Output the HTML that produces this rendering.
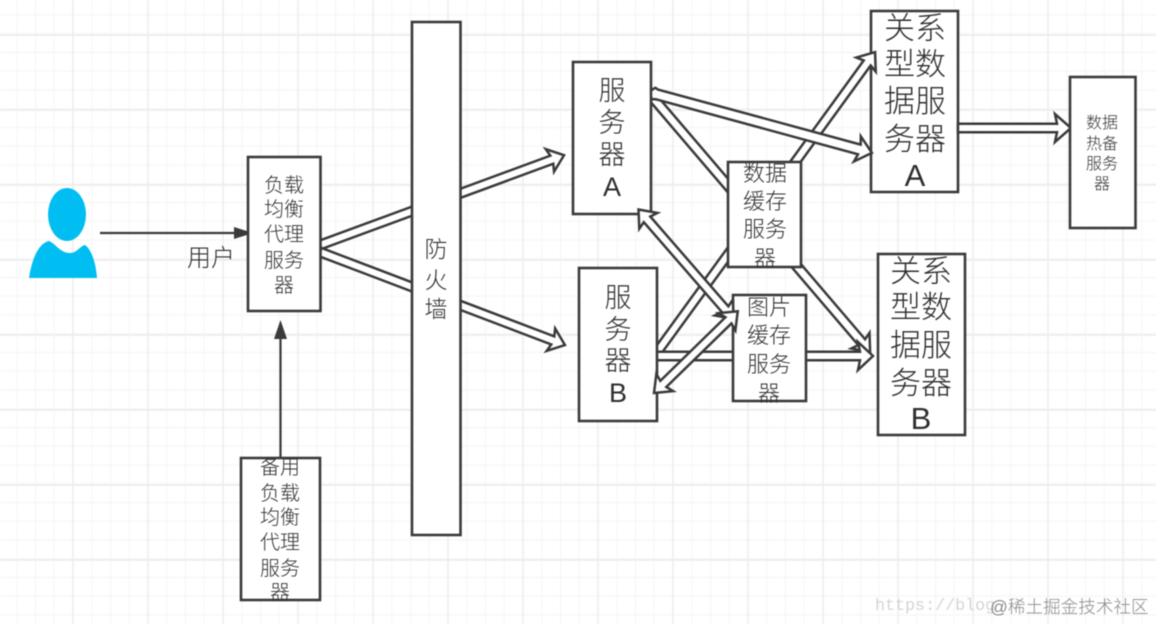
<!DOCTYPE html>
<html lang="zh">
<head>
<meta charset="utf-8">
<title>架构图</title>
<style>
html,body{margin:0;padding:0;background:#fff;width:1156px;height:624px;overflow:hidden}
svg{display:block;filter:blur(.45px)}
text{font-family:"Liberation Sans","Noto Sans CJK SC",sans-serif;font-weight:300;fill:#2e2e2e;text-anchor:middle}
.b{fill:#fff;stroke:#3a3a3a;stroke-width:2.6}
.a{fill:#fff;stroke:#3a3a3a;stroke-width:2.5;stroke-linejoin:miter}
</style>
</head>
<body>
<svg width="1156" height="624" viewBox="0 0 1156 624" xmlns="http://www.w3.org/2000/svg">
<defs>
<pattern id="minor" x="-3" y="-4.75" width="18.75" height="18.75" patternUnits="userSpaceOnUse">
<path d="M1 0V18.75M0 1H18.75" fill="none" stroke="#f6f6f6" stroke-width="1.2"/>
</pattern>
<pattern id="major" x="-3" y="34" width="75" height="75" patternUnits="userSpaceOnUse">
<path d="M1 0V75M0 1H75" fill="none" stroke="#ececec" stroke-width="1.4"/>
</pattern>
</defs>
<rect width="1156" height="624" fill="#fff"/>
<rect width="1156" height="624" fill="url(#minor)"/>
<rect width="1156" height="624" fill="url(#major)"/>

<!-- person -->
<ellipse cx="67" cy="214.5" rx="19" ry="26.5" fill="#00bef2"/>
<path d="M29 278C32 258 39 243 49 241C55 243 60 253 70 253C77 253 80 246 85 245C92 250 96 264 97 278Z" fill="#00bef2"/>

<!-- thin arrows -->
<path d="M100 233H238" stroke="#3a3a3a" stroke-width="2.2" fill="none"/>
<polygon points="234,227 253,233 234,239" fill="#3a3a3a"/>
<path d="M280.5 458V336" stroke="#3a3a3a" stroke-width="2.2" fill="none"/>
<polygon points="274,339 280.5,320 287,339" fill="#3a3a3a"/>
<text x="211" y="266" font-size="24">用户</text>

<!-- target boxes below arrow tips -->
<rect class="b" x="871" y="11" width="87" height="181"/>
<rect class="b" x="878" y="254" width="87" height="181"/>

<!-- hollow arrows under boxes -->
<polygon class="a" transform="translate(320,245) rotate(-20.2)" points="0,-4.300 247,-4.300 245,-12 260,0 245,12 247,4.300 0,4.300"/>
<polygon class="a" transform="translate(320,252) rotate(20.8)" points="0,-4.300 249,-4.300 247,-12 262,0 247,12 249,4.300 0,4.300"/>
<polygon class="a" transform="translate(648,92) rotate(49.5)" points="0,0 6,-4.500 329,-4.500 327,-12 342,0 327,12 329,4.500 6,4.500"/>
<polygon class="a" transform="translate(655,355) rotate(-54)" points="0,-4.300 361,-4.300 359,-12 374.400,0 359,12 361,4.300 0,4.300"/>
<polygon class="a" transform="translate(655,356)" points="0,-4.300 205,-4.300 203,-14 218,0 203,14 205,4.300 0,4.300"/>
<polygon class="a" transform="translate(648,92) rotate(15.2)" points="0,0 6,-6 9,-5 219,-5 217,-13 232,0 217,13 219,5 9,5 6,6"/>
<polygon class="a" transform="translate(958,128)" points="0,-4.300 99,-4.300 97,-14 113,0 97,14 99,4.300 0,4.300"/>

<!-- boxes -->
<rect class="b" x="248" y="157" width="72.500" height="154"/>
<rect class="b" x="412" y="22" width="48.500" height="513"/>
<rect class="b" x="573" y="62" width="78" height="152"/>
<rect class="b" x="579" y="268" width="78" height="153"/>
<rect class="b" x="728" y="162" width="73" height="105"/>
<rect class="b" x="733" y="295" width="73" height="106"/>
<rect class="b" x="1070" y="77" width="65.500" height="151"/>
<rect class="b" x="241" y="458" width="79" height="142"/>

<!-- double arrows above boxes -->
<polygon class="a" transform="translate(638.500,209.500) rotate(49)" points="0,0 15,-12 13,-4.300 132,-4.300 130,-12 145,0 130,12 132,4.300 13,4.300 15,12"/>
<polygon class="a" transform="translate(654,393) rotate(-44.3)" points="0,0 15,-12 13,-4.300 104,-4.300 102,-12 117,0 102,12 104,4.300 13,4.300 15,12"/>

<!-- labels -->
<g font-size="20">
<text x="284" y="192">负载</text>
<text x="284" y="216">均衡</text>
<text x="284" y="241">代理</text>
<text x="284" y="267">服务</text>
<text x="284" y="292">器</text>
<text x="280" y="474">备用</text>
<text x="280" y="500">负载</text>
<text x="280" y="524">均衡</text>
<text x="280" y="549">代理</text>
<text x="280" y="575">服务</text>
<text x="280" y="599">器</text>
</g>
<g font-size="23">
<text x="436" y="257">防</text>
<text x="436" y="288">火</text>
<text x="436" y="317">墙</text>
</g>
<g font-size="27">
<text x="612" y="100">服</text>
<text x="612" y="132">务</text>
<text x="612" y="164">器</text>
<text x="612" y="196">A</text>
<text x="618" y="307">服</text>
<text x="618" y="339">务</text>
<text x="618" y="370">器</text>
<text x="618" y="402">B</text>
</g>
<g font-size="22">
<text x="765" y="181">数据</text>
<text x="765" y="209">缓存</text>
<text x="765" y="237">服务</text>
<text x="765" y="266">器</text>
<text x="769" y="315">图片</text>
<text x="769" y="343">缓存</text>
<text x="769" y="372">服务</text>
<text x="769" y="401">器</text>
</g>
<g font-size="31">
<text x="915" y="39">关系</text>
<text x="915" y="75">型数</text>
<text x="915" y="112">据服</text>
<text x="915" y="150">务器</text>
<text x="915" y="186">A</text>
<text x="921" y="282">关系</text>
<text x="921" y="318">型数</text>
<text x="921" y="356">据服</text>
<text x="921" y="394">务器</text>
<text x="921" y="429">B</text>
</g>
<g font-size="16">
<text x="1102" y="128">数据</text>
<text x="1102" y="149">热备</text>
<text x="1102" y="169">服务</text>
<text x="1102" y="189">器</text>
</g>

<!-- watermark -->
<text x="875" y="610" font-size="16.700" style="font-family:'Liberation Mono',monospace;text-anchor:start;fill:#d4d4d4">https://blog</text>
<text x="990" y="613" font-size="17.600" style="text-anchor:start;fill:#8a8a8a">@稀土掘金技术社区</text>
</svg>
</body>
</html>
